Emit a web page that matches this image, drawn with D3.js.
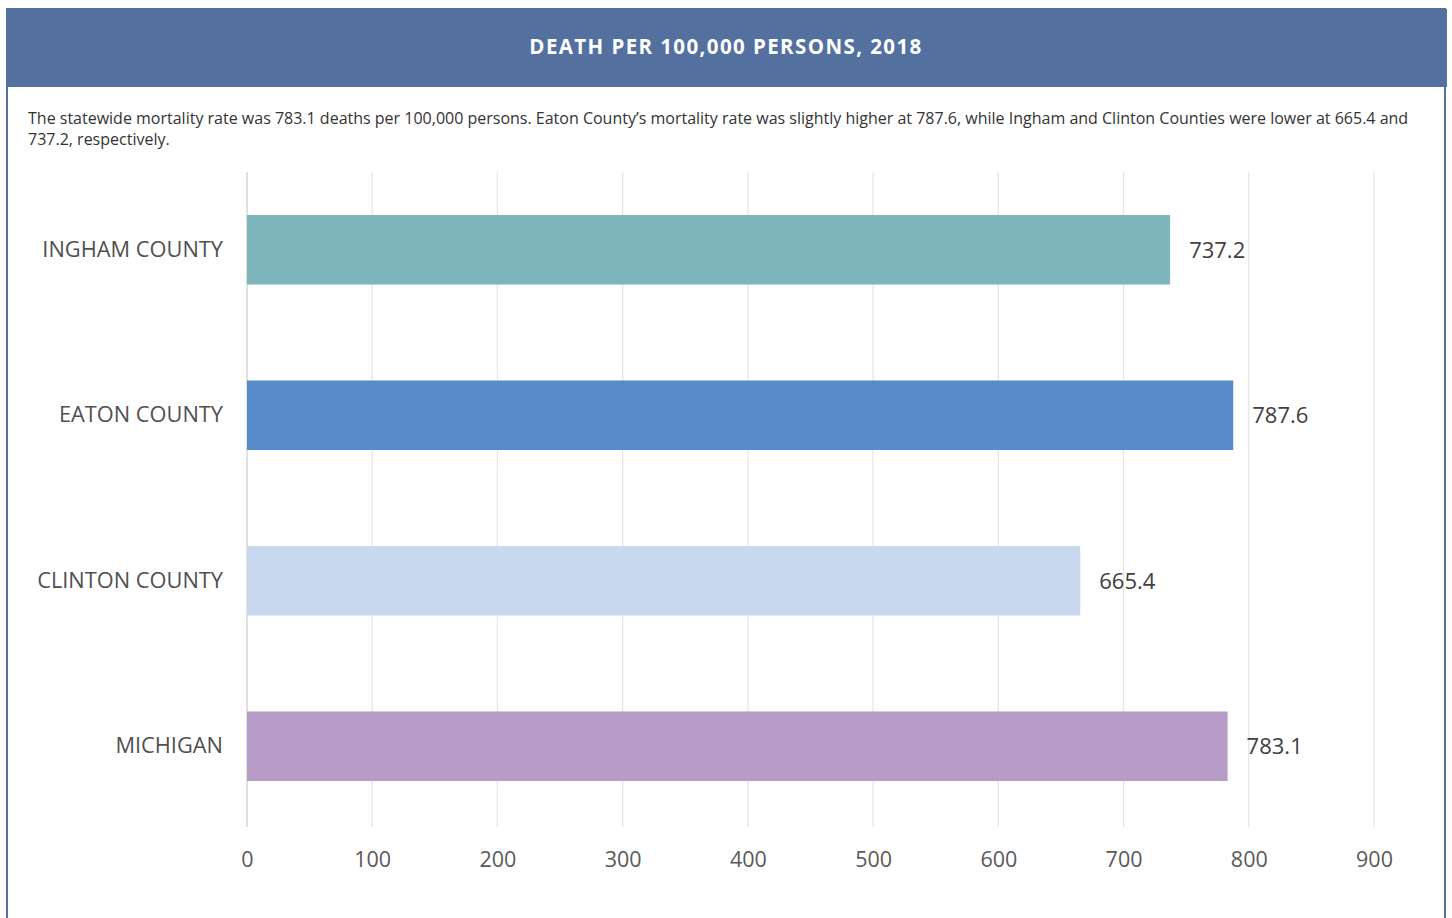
<!DOCTYPE html>
<html>
<head>
<meta charset="utf-8">
<script src="https://cdn.jsdelivr.net/npm/d3@7"></script>
<style>
  html, body { margin: 0; padding: 0; background: #ffffff; }
  svg { display: block; }
</style>
</head>
<body>
<svg id="chart" width="1452" height="918"></svg>
<script>
// Mortality rate per 100,000 persons, 2018
const categories = ["INGHAM COUNTY", "EATON COUNTY", "CLINTON COUNTY", "MICHIGAN"];
const values = [737.2, 787.6, 665.4, 783.1];
const barColors = ["#7fb6bd", "#5a8bcb", "#c7d8ef", "#b79cc7"];
const xTicks = [0, 100, 200, 300, 400, 500, 600, 700, 800, 900];
const title = "DEATH PER 100,000 PERSONS, 2018";
const descLines = [
  "The statewide mortality rate was 783.1 deaths per 100,000 persons. Eaton County\u2019s mortality rate was slightly higher at 787.6, while Ingham and Clinton Counties were lower at 665.4 and",
  "737.2, respectively."
];

const svg = d3.select("#chart");

// Panel frame and header band
svg.append("rect").attr("x", 7).attr("y", 9).attr("width", 1438).attr("height", 930)
  .attr("fill", "#ffffff").attr("stroke", "#53709f").attr("stroke-width", 2);
svg.append("rect").attr("x", 6).attr("y", 9).attr("width", 1441).attr("height", 78)
  .attr("fill", "#53709f");
svg.append("text").attr("x", 726).attr("y", 54)
  .attr("text-anchor", "middle")
  .attr("font-family", "'Open Sans', sans-serif").attr("font-weight", 700)
  .attr("font-size", 20.5).attr("letter-spacing", 1.4).attr("fill", "#ffffff")
  .text(title);

const desc = svg.append("text")
  .attr("font-family", "'Open Sans', sans-serif").attr("font-size", 16).attr("fill", "#333333");
descLines.forEach((line, i) => {
  desc.append("tspan").attr("x", 28).attr("y", 124 + i * 21).text(line);
});

// Scales
const x = d3.scaleLinear().domain([0, 900]).range([247, 1374]);
const y = d3.scaleBand().domain(categories).range([167, 829])
  .paddingInner(0.58).paddingOuter(0.29);

const font = "'Open Sans', 'Noto Sans', sans-serif";

// Vertical gridlines
svg.append("g").selectAll("line").data(xTicks).join("line")
  .attr("x1", d => x(d)).attr("x2", d => x(d))
  .attr("y1", 172).attr("y2", 827)
  .attr("stroke", d => d === 0 ? "#cfcfcf" : "#e6e6e6")
  .attr("stroke-width", 1.3);

// Bars
svg.append("g").selectAll("rect").data(categories).join("rect")
  .attr("x", x(0))
  .attr("y", d => y(d))
  .attr("width", (d, i) => x(values[i]) - x(0))
  .attr("height", y.bandwidth())
  .attr("fill", (d, i) => barColors[i]);

// Value labels
svg.append("g").selectAll("text").data(categories).join("text")
  .attr("x", (d, i) => x(values[i]) + 19)
  .attr("y", d => y(d) + y.bandwidth() / 2 + 8)
  .attr("font-family", font).attr("font-size", 22).attr("fill", "#404040")
  .text((d, i) => values[i].toFixed(1));

// Category labels
svg.append("g").selectAll("text").data(categories).join("text")
  .attr("x", 223)
  .attr("y", d => y(d) + y.bandwidth() / 2 + 7)
  .attr("text-anchor", "end")
  .attr("font-family", font).attr("font-size", 21.8).attr("fill", "#505050")
  .text(d => d);

// X axis tick labels
const xAxis = d3.axisBottom(x).tickValues(xTicks).tickSize(0).tickPadding(0);
const gx = svg.append("g").attr("transform", "translate(0,852)").call(xAxis);
gx.select(".domain").remove();
gx.selectAll("text")
  .attr("font-family", font).attr("font-size", 21.5).attr("fill", "#595959")
  .attr("dy", "0.71em");
</script>
</body>
</html>
